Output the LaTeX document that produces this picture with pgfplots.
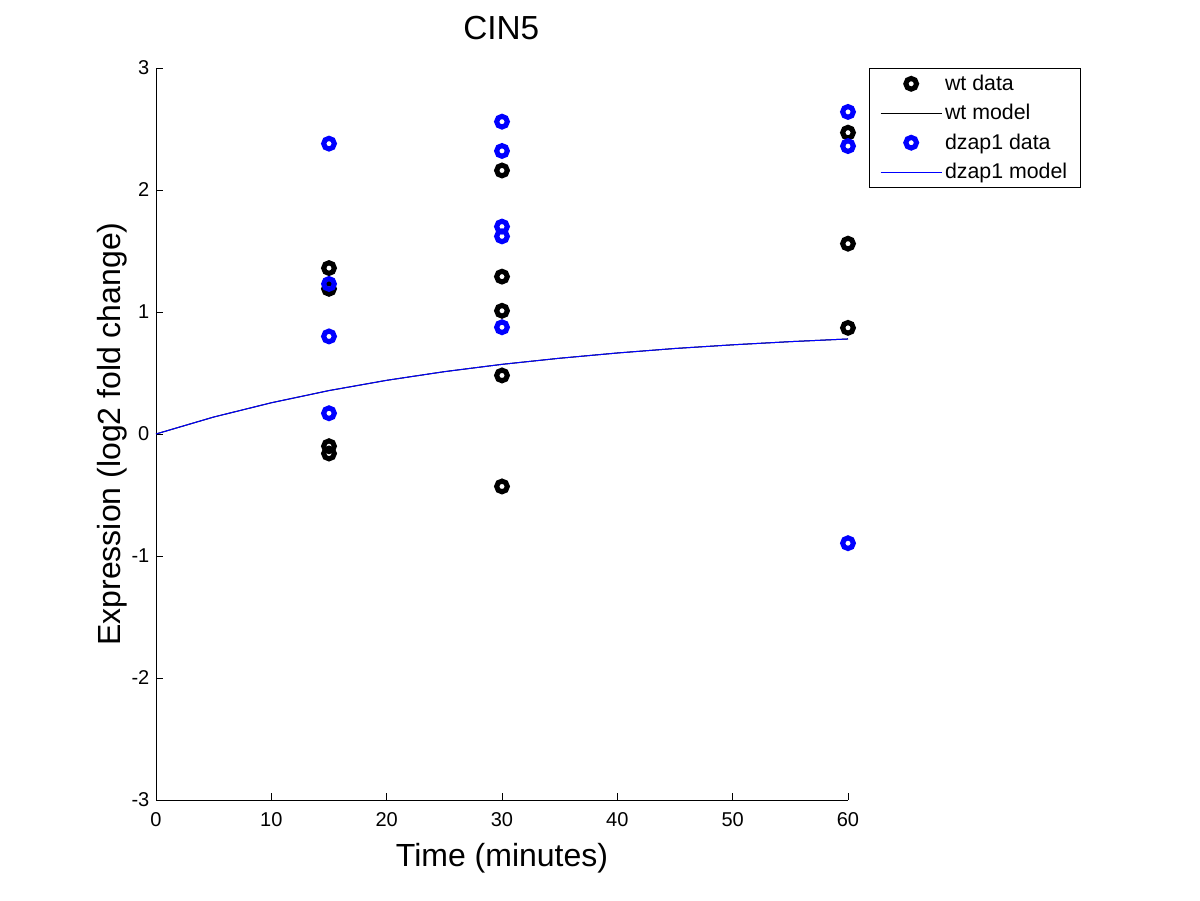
\documentclass[border=0pt]{standalone}
\usepackage{fontspec}
\setmainfont{Liberation Sans}
\usepackage{pgfplots}
\pgfplotsset{compat=1.18}

\pgfplotsset{
  legimg/.style={legend image code/.code={%
    \draw[mark repeat=2,mark phase=2] plot coordinates {(0pt,0pt) (23pt,0pt) (46pt,0pt)};}},
  ring/.style={only marks, mark=o, mark size=4pt, mark options={line width=3.8pt, solid}},
}

\begin{document}
\begin{tikzpicture}
\useasboundingbox (0,0) rectangle (900pt,675pt);
\begin{axis}[
  at={(117pt,75pt)}, anchor=south west,
  scale only axis, width=519pt, height=549pt,
  xmin=0, xmax=60, ymin=-3, ymax=3,
  axis x line*=bottom, axis y line*=left,
  axis line style={-, line width=0.6pt},
  tick align=inside, major tick length=5pt,
  tick style={line width=0.6pt, black},
  xtick={0,10,20,30,40,50,60},
  ytick={-3,-2,-1,0,1,2,3},
  yticklabels={-3,-2,-1,0,1,2,3},
  xticklabels={0,10,20,30,40,50,60},
  ticklabel style={font=\fontsize{15}{18}\selectfont},
  xticklabel style={yshift=-5.5pt},
  yticklabel style={xshift=-1.5pt},
  xlabel={Time (minutes)},
  ylabel={Expression (log2 fold change)},
  xlabel style={at={(axis description cs:0.5,-0.0792)}, anchor=center, font=\fontsize{24}{28}\selectfont},
  ylabel style={at={(axis description cs:-0.0636,0.5)}, anchor=center, rotate=0, font=\fontsize{24}{28}\selectfont},
  title={CIN5},
  title style={at={(axis description cs:0.499,1.0437)}, anchor=center, font=\fontsize{25}{29}\selectfont},
  legend style={at={(axis description cs:1.0303,1)}, anchor=north west,
    draw=black, line width=0.6pt, font=\fontsize{16}{19}\selectfont,
    inner xsep=8pt, inner ysep=3pt, row sep=5pt,
    every odd column/.style={column sep=5pt}},
  legend cell align=left,
  clip=false,
]
\addplot[ring, black, legimg] coordinates {
  (15,1.36) (15,1.19) (15,-0.10) (15,-0.16)
  (30,2.16) (30,1.29) (30,1.01) (30,0.48) (30,-0.43)
  (60,2.47) (60,1.56) (60,0.87)
};
\addlegendentry{wt data}
\addplot[black, line width=0.75pt, no marks, legimg] coordinates {
  (0,0) (5,0.139) (10,0.256) (15,0.356) (20,0.440) (25,0.511) (30,0.571)
  (35,0.621) (40,0.664) (45,0.701) (50,0.731) (55,0.757) (60,0.779)
};
\addlegendentry{wt model}
\addplot[ring, color={rgb,255:red,0;green,0;blue,255}, legimg] coordinates {
  (15,2.38) (15,1.23) (15,0.80) (15,0.17)
  (30,2.56) (30,2.32) (30,1.70) (30,1.62) (30,0.875)
  (60,2.64) (60,2.36) (60,-0.895)
};
\addlegendentry{dzap1 data}
\addplot[color={rgb,255:red,0;green,0;blue,255}, line width=0.75pt, no marks, legimg] coordinates {
  (0,0) (5,0.139) (10,0.256) (15,0.356) (20,0.440) (25,0.511) (30,0.571)
  (35,0.621) (40,0.664) (45,0.701) (50,0.731) (55,0.757) (60,0.779)
};
\addlegendentry{dzap1 model}
\end{axis}
\end{tikzpicture}
\end{document}
